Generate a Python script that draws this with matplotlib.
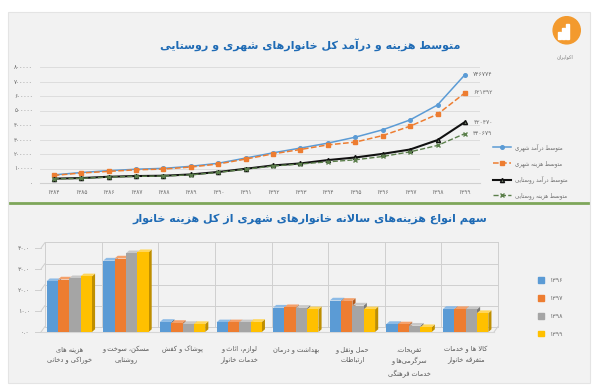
import matplotlib
matplotlib.use('Agg')
import matplotlib.pyplot as plt
import matplotlib.transforms as mtrans
from matplotlib.patches import Polygon, Rectangle, Circle, Patch, ConnectionPatch
from matplotlib.lines import Line2D
import numpy as np

plt.rcParams['font.family'] = ['DejaVu Sans']

# ---- data: top chart (thousand rials) ----
years = list(range(1384, 1400))
urban_income = [56000, 72000, 85000, 95000, 101000, 115000, 136000, 172000,
                208000, 241000, 275000, 316000, 367000, 435000, 538000, 746774]
urban_expense = [52000, 69000, 80000, 91000, 96000, 110000, 131000, 165000,
                 201000, 231000, 263000, 282000, 327000, 392000, 474000, 621392]
rural_income = [30000, 34000, 43000, 48000, 50000, 59000, 76000, 98000,
                121000, 135000, 158000, 176000, 201000, 231000, 296000, 420470]
rural_expense = [28000, 32000, 41000, 46000, 48000, 56000, 73000, 95000,
                 117000, 131000, 146000, 160000, 183000, 215000, 259000, 340679]
line_names = ['متوسط درآمد شهری', 'متوسط هزینه شهری',
              'متوسط درآمد روستایی', 'متوسط هزینه روستایی']

# ---- data: bottom chart (percent share) ----
categories = ['هزینه های\nخوراکی و دخانی', 'مسکن، سوخت و\nروشنایی', 'پوشاک و کفش',
              'لوازم، اثاث و\nخدمات خانوار', 'بهداشت و درمان', 'حمل ونقل و\nارتباطات',
              'تفریحات،\nسرگرمی‌ها و\nخدمات فرهنگی', 'کالا ها و خدمات\nمتفرقه خانوار']
share_1396 = [24.2, 34.0, 4.8, 4.6, 11.6, 15.0, 3.8, 11.0]
share_1397 = [25.0, 35.0, 4.3, 4.6, 11.8, 14.8, 3.6, 10.9]
share_1398 = [25.6, 37.5, 3.8, 4.6, 11.5, 12.6, 3.0, 10.8]
share_1399 = [26.5, 38.0, 3.8, 4.8, 10.8, 10.8, 2.3, 9.0]
bar_years = [1396, 1397, 1398, 1399]

# ---- simple persian shaping (matplotlib has no arabic shaping) ----
FORMS = {
    'آ': ('\uFE81', '\uFE82'), 'ا': ('\uFE8D', '\uFE8E'),
    'ب': ('\uFE8F', '\uFE90', '\uFE91', '\uFE92'), 'پ': ('\uFB56', '\uFB57', '\uFB58', '\uFB59'),
    'ت': ('\uFE95', '\uFE96', '\uFE97', '\uFE98'), 'ث': ('\uFE99', '\uFE9A', '\uFE9B', '\uFE9C'),
    'ج': ('\uFE9D', '\uFE9E', '\uFE9F', '\uFEA0'), 'چ': ('\uFB7A', '\uFB7B', '\uFB7C', '\uFB7D'),
    'ح': ('\uFEA1', '\uFEA2', '\uFEA3', '\uFEA4'), 'خ': ('\uFEA5', '\uFEA6', '\uFEA7', '\uFEA8'),
    'د': ('\uFEA9', '\uFEAA'), 'ذ': ('\uFEAB', '\uFEAC'), 'ر': ('\uFEAD', '\uFEAE'),
    'ز': ('\uFEAF', '\uFEB0'), 'ژ': ('\uFB8A', '\uFB8B'),
    'س': ('\uFEB1', '\uFEB2', '\uFEB3', '\uFEB4'), 'ش': ('\uFEB5', '\uFEB6', '\uFEB7', '\uFEB8'),
    'ص': ('\uFEB9', '\uFEBA', '\uFEBB', '\uFEBC'), 'ض': ('\uFEBD', '\uFEBE', '\uFEBF', '\uFEC0'),
    'ط': ('\uFEC1', '\uFEC2', '\uFEC3', '\uFEC4'), 'ظ': ('\uFEC5', '\uFEC6', '\uFEC7', '\uFEC8'),
    'ع': ('\uFEC9', '\uFECA', '\uFECB', '\uFECC'), 'غ': ('\uFECD', '\uFECE', '\uFECF', '\uFED0'),
    'ف': ('\uFED1', '\uFED2', '\uFED3', '\uFED4'), 'ق': ('\uFED5', '\uFED6', '\uFED7', '\uFED8'),
    'ک': ('\uFB8E', '\uFB8F', '\uFB90', '\uFB91'), 'گ': ('\uFB92', '\uFB93', '\uFB94', '\uFB95'),
    'ل': ('\uFEDD', '\uFEDE', '\uFEDF', '\uFEE0'), 'م': ('\uFEE1', '\uFEE2', '\uFEE3', '\uFEE4'),
    'ن': ('\uFEE5', '\uFEE6', '\uFEE7', '\uFEE8'), 'و': ('\uFEED', '\uFEEE'),
    'ه': ('\uFEE9', '\uFEEA', '\uFEEB', '\uFEEC'), 'ی': ('\uFBFC', '\uFBFD', '\uFBFE', '\uFBFF'),
}


def shape_line(s):
    out = []
    i = 0
    while i < len(s):
        c = s[i]
        if c not in FORMS:
            if c != '\u200c':
                out.append(c)
            i += 1
            continue
        prev = s[i - 1] if i > 0 else ''
        nxt = s[i + 1] if i + 1 < len(s) else ''
        jp = prev in FORMS and len(FORMS[prev]) == 4
        if c == 'ل' and nxt == 'ا':
            out.append('\uFEFC' if jp else '\uFEFB')
            i += 2
            continue
        f = FORMS[c]
        jn = len(f) == 4 and nxt in FORMS
        if jp and jn:
            out.append(f[3])
        elif jp:
            out.append(f[1])
        elif jn:
            out.append(f[2])
        else:
            out.append(f[0])
        i += 1
    return ''.join(reversed(out))


def fa(text):
    return '\n'.join(shape_line(l) for l in text.split('\n'))


def fa_num(s):
    return str(s).translate(str.maketrans('0123456789', '۰۱۲۳۴۵۶۷۸۹'))


W, H = 600, 388
fig = plt.figure(figsize=(6, 3.88), dpi=100)
fig.patch.set_facecolor('white')
fig.patches.append(Rectangle((8 / W, 1 - 383 / H), 582 / W, 371 / H, transform=fig.transFigure,
                             facecolor='#f2f2f2', edgecolor='#e4e4e4', lw=0.8, zorder=-5))
fig.add_artist(Line2D([10 / W, 588 / W], [1 - 203 / H] * 2, color='#7ea65a', lw=2, zorder=-4))

title_col = '#1f6bb5'
txt_col = '#6f6f6f'

fig.text(310 / W, 1 - 45 / H, fa('متوسط هزینه و درآمد کل خانوارهای شهری و روستایی'),
         ha='center', va='center', fontsize=8, weight='bold', color=title_col)
fig.text(310 / W, 1 - 219 / H, fa('سهم انواع هزینه‌های سالانه خانوارهای شهری از کل هزینه خانوار'),
         ha='center', va='center', fontsize=8, weight='bold', color=title_col)

# logo
lax = fig.add_axes([548 / W, 1 - 50 / H, 34 / W, 34 / H])
lax.set_xlim(0, 1); lax.set_ylim(0, 1); lax.set_aspect('equal'); lax.axis('off')
lax.add_patch(Circle((0.55, 0.58), 0.4, color='#f39a2e'))
for bx, bh in [(0.3, 0.22), (0.42, 0.32), (0.54, 0.44)]:
    lax.add_patch(Rectangle((bx, 0.32), 0.08, bh, color='white'))
fig.text(565 / W, 1 - 57 / H, fa('اکوایران'), ha='center', va='center', fontsize=3.5, color='#777777')

# ---- top line chart ----
ax1 = fig.add_axes([40 / W, 1 - 183 / H, 440 / W, 116 / H])
ax1.set_facecolor('none')
x = np.arange(len(years))
styles = [
    dict(color='#5b9bd5', lw=1.1, ls='-', marker='o', ms=2.6),
    dict(color='#ed7d31', lw=1.1, ls='--', marker='s', ms=2.8),
    dict(color='#111111', lw=1.5, ls='-', marker='^', ms=3, mfc='#7a8a70'),
    dict(color='#5b7f4b', lw=1.0, ls='--', marker='x', ms=3),
]
series = [urban_income, urban_expense, rural_income, rural_expense]
handles = []
for vals, st, name in zip(series, styles, line_names):
    h, = ax1.plot(x, vals, clip_on=False, zorder=3, **st)
    handles.append(h)
    ax1.annotate(fa_num(vals[-1]), (x[-1], vals[-1]), xytext=(6, 0), textcoords='offset points',
                 fontsize=4.3, color=txt_col, va='center')

ax1.set_xlim(-0.5, 15.55)
ax1.set_ylim(0, 800000)
ax1.set_yticks(range(0, 800001, 100000))
ax1.set_yticklabels([fa_num(v) for v in range(0, 800001, 100000)])
ax1.set_xticks(x)
ax1.set_xticklabels([fa_num(y) for y in years])
ax1.tick_params(length=0, labelsize=4.2, labelcolor=txt_col, pad=5)
ax1.grid(axis='y', color='#d9d9d9', lw=0.6)
ax1.set_axisbelow(True)
for s in ['top', 'right', 'left']:
    ax1.spines[s].set_visible(False)
ax1.spines['bottom'].set_color('#d0d0d0')

fig.legend(handles, [fa(n) for n in line_names], loc='center left',
           bbox_to_anchor=(488 / W, 1 - 171 / H), frameon=False, fontsize=4,
           handlelength=3.2, labelspacing=1.6, labelcolor=txt_col)

# ---- bottom 3d-ish bar chart ----
ax2 = fig.add_axes([41 / W, 1 - 332 / H, 453 / W, 84 / H])
ax2.set_facecolor('none')
ax2.set_xlim(-0.5, 7.5)
ax2.set_ylim(0, 40)
back = ax2.transData + mtrans.ScaledTranslation(4 / 100, 5.5 / 100, fig.dpi_scale_trans)
grid_col = '#cfcfcf'
for v in range(0, 41, 10):
    ax2.plot([-0.5, 7.5], [v, v], transform=back, color=grid_col, lw=0.7, clip_on=False, zorder=0)
    # link from the front edge to the back wall
    ax2.add_artist(ConnectionPatch((-0.5, v), (-0.5, v), coordsA=ax2.transData, coordsB=back,
                                   color=grid_col, lw=0.7, zorder=0))
    ax2.add_line(Line2D([-0.6, -0.5], [v, v], color=grid_col, lw=0.7, clip_on=False, zorder=0))
for b in np.arange(-0.5, 8.0, 1.0):
    ax2.plot([b, b], [0, 40], transform=back, color=grid_col, lw=0.7, clip_on=False, zorder=0)
ax2.add_artist(ConnectionPatch((7.5, 0), (7.5, 0), coordsA=ax2.transData, coordsB=back,
                               color=grid_col, lw=0.7, zorder=0))
ax2.plot([-0.5, 7.5], [0, 0], color='#d6d6d6', lw=0.8, clip_on=False, zorder=0)

bar_cols = ['#5b9bd5', '#ed7d31', '#a5a5a5', '#ffc000']
side_cols = ['#3f6f9e', '#b05a20', '#7a7a7a', '#bf8f00']
top_cols = ['#8dbbe6', '#f4a06a', '#c8c8c8', '#ffd65a']
shares = [share_1396, share_1397, share_1398, share_1399]
bw = 0.2
dx, dy = 0.055, 1.3
cx = np.arange(len(categories))
for k, (vals, c, sc, tc) in enumerate(zip(shares, bar_cols, side_cols, top_cols)):
    xs = cx - 0.4 + k * bw
    for xi, h in zip(xs, vals):
        ax2.add_patch(Polygon([(xi + bw, 0), (xi + bw + dx, dy), (xi + bw + dx, h + dy), (xi + bw, h)],
                              closed=True, facecolor=sc, edgecolor='none', zorder=2 + k * 0.1, clip_on=False))
        ax2.add_patch(Polygon([(xi, h), (xi + dx, h + dy), (xi + bw + dx, h + dy), (xi + bw, h)],
                              closed=True, facecolor=tc, edgecolor='none', zorder=2 + k * 0.1, clip_on=False))
    ax2.bar(xs, vals, width=bw, align='edge', color=c, zorder=2 + k * 0.1 + 0.05, clip_on=False)

ax2.set_yticks(range(0, 41, 10))
ax2.set_yticklabels([fa_num(f'{v}.0') for v in range(0, 41, 10)])
ax2.set_xticks(cx)
ax2.set_xticklabels([fa(c) for c in categories], linespacing=1.7)
ax2.tick_params(axis='y', length=0, labelsize=4.5, labelcolor=txt_col, pad=8)
ax2.tick_params(axis='x', length=0, labelsize=4.8, labelcolor='#5a5a5a', pad=10)
for s in ax2.spines.values():
    s.set_visible(False)

fig.legend([Patch(color=c) for c in bar_cols], [fa_num(y) for y in bar_years], loc='center left',
           bbox_to_anchor=(532 / W, 1 - 307 / H), frameon=False, fontsize=4.5,
           handlelength=1.0, handleheight=1.0, labelspacing=1.9, labelcolor=txt_col)

fig.savefig('out.png', dpi=100)
